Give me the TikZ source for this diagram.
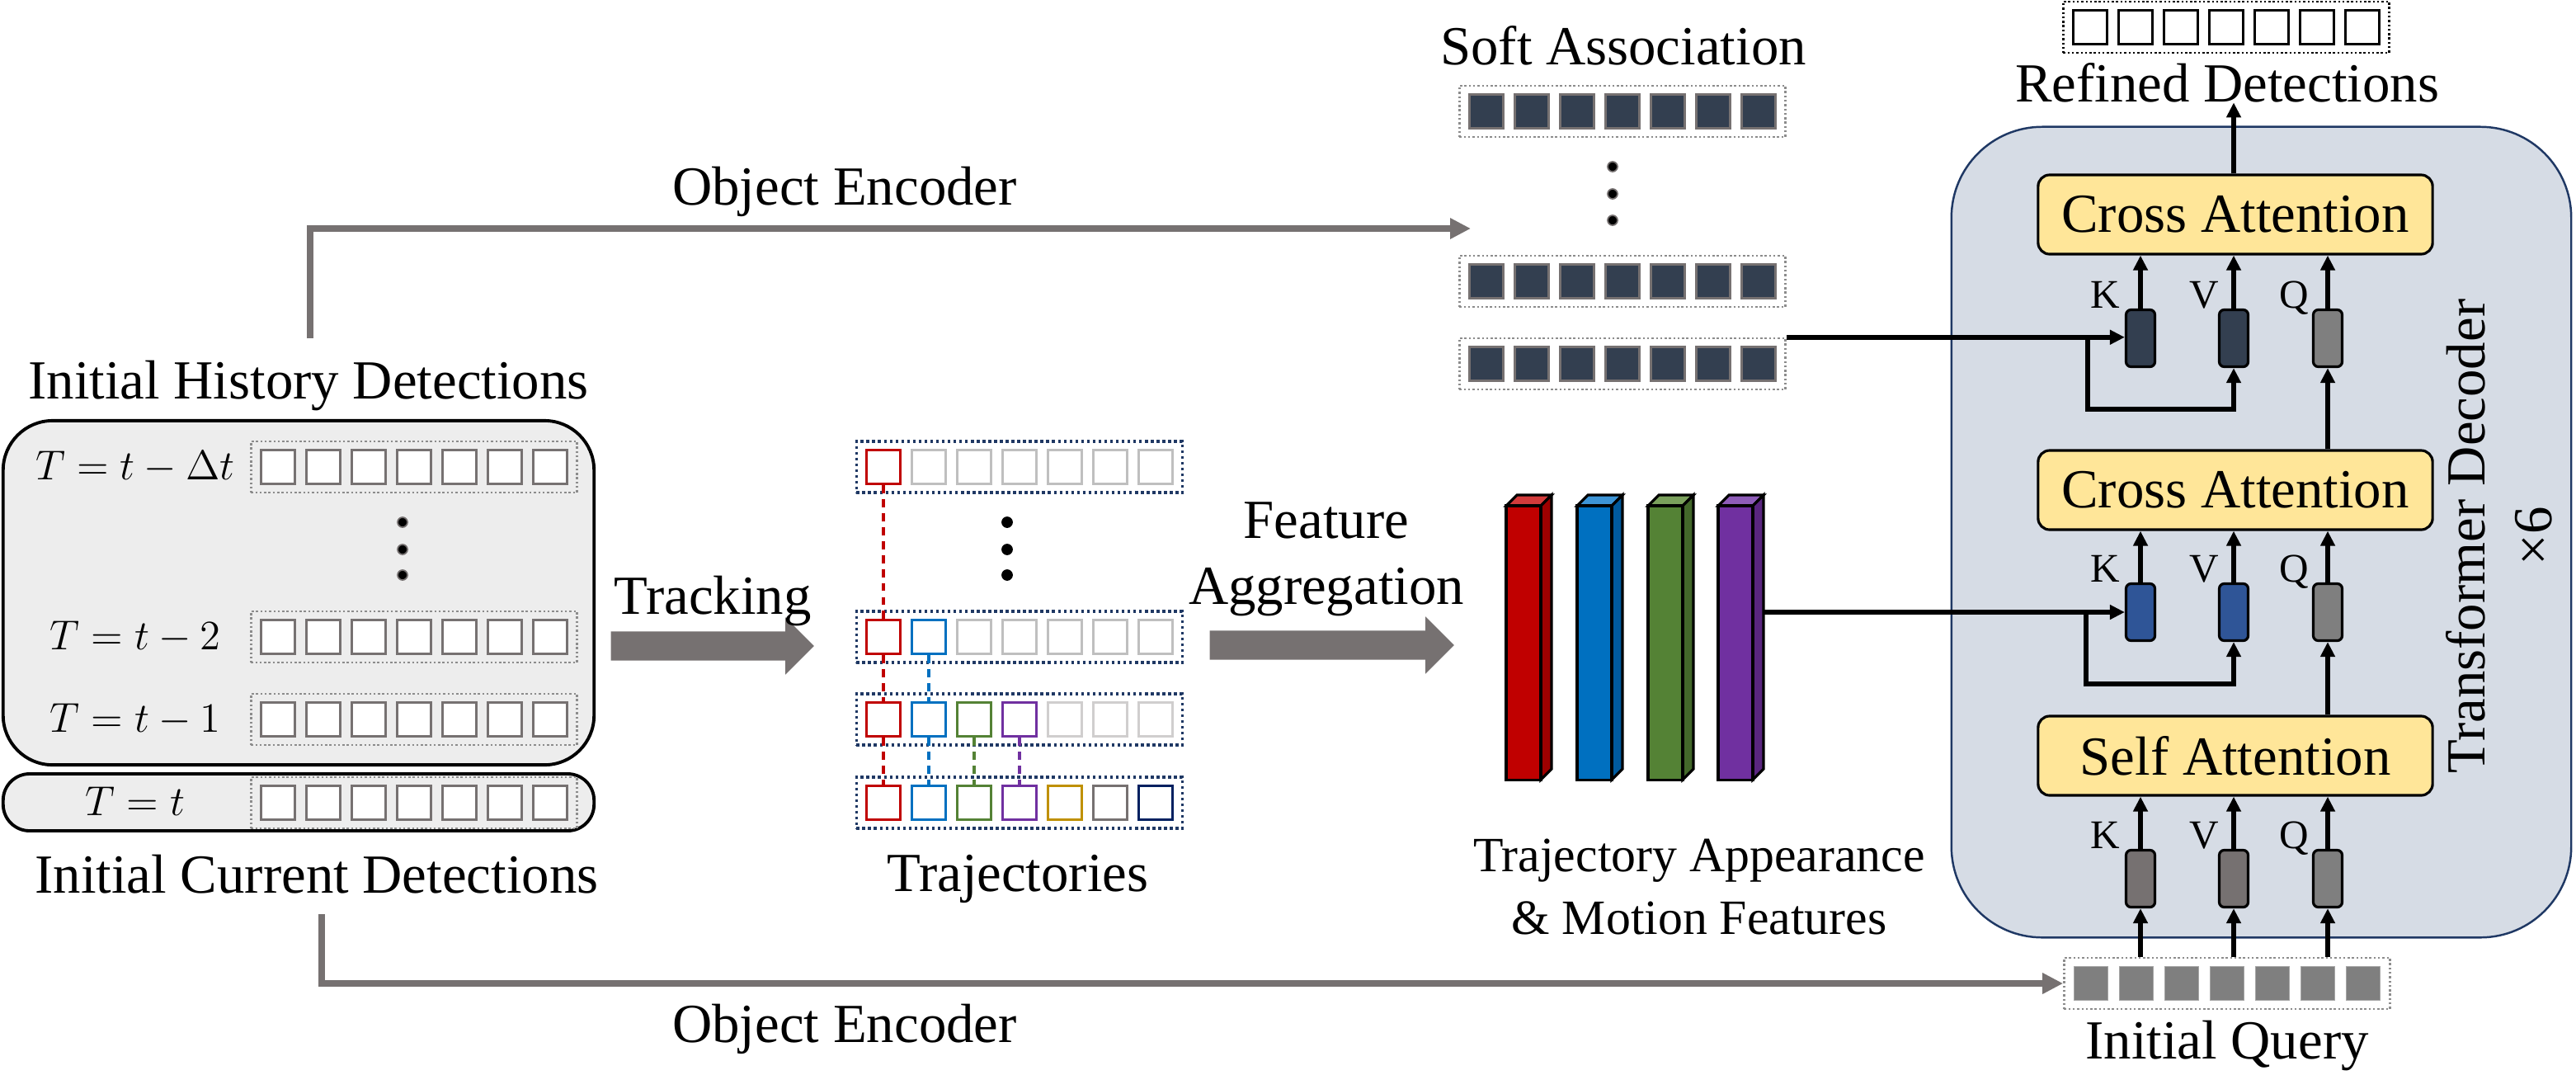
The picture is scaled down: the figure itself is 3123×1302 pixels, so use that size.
\documentclass[tikz,border=0pt]{standalone}
\usepackage{fontspec}
\setmainfont{Liberation Serif}
\usetikzlibrary{arrows.meta, shapes.arrows}

\definecolor{histFill}{HTML}{EDEDED}
\definecolor{cellGray}{HTML}{767171}
\definecolor{stripGray}{HTML}{8C8C8C}
\definecolor{stripNavy}{HTML}{1F3864}
\definecolor{trRed}{HTML}{C00000}
\definecolor{trBlue}{HTML}{0070C0}
\definecolor{trGreen}{HTML}{548235}
\definecolor{trPurple}{HTML}{7030A0}
\definecolor{trGold}{HTML}{BF9000}
\definecolor{trGray}{HTML}{767171}
\definecolor{trNavy}{HTML}{002060}
\definecolor{trLight}{HTML}{BFBFBF}
\definecolor{trLighter}{HTML}{D0CECE}
\definecolor{softDark}{HTML}{333F50}
\definecolor{queryGray}{HTML}{7F7F7F}
\definecolor{queryEdge}{HTML}{A6A6A6}
\definecolor{kvBlue}{HTML}{2F5597}
\definecolor{decFill}{HTML}{D6DCE5}
\definecolor{decEdge}{HTML}{1F3864}
\definecolor{attnYellow}{HTML}{FFE699}
\definecolor{arrowGray}{HTML}{767171}
\definecolor{barRed}{HTML}{C00000}
\definecolor{barRedTop}{HTML}{D33B3B}
\definecolor{barRedSide}{HTML}{9E0000}
\definecolor{barBlue}{HTML}{0070C0}
\definecolor{barBlueTop}{HTML}{3D94D6}
\definecolor{barBlueSide}{HTML}{005A9E}
\definecolor{barGreen}{HTML}{548235}
\definecolor{barGreenTop}{HTML}{7AA05C}
\definecolor{barGreenSide}{HTML}{43682A}
\definecolor{barPurple}{HTML}{7030A0}
\definecolor{barPurpleTop}{HTML}{8E5CB8}
\definecolor{barPurpleSide}{HTML}{5A2680}

\tikzset{
  txt/.style={inner sep=0pt, anchor=base},
  rowlab/.style={txt, font=\fontsize{14}{16}\selectfont},
  kvlab/.style={txt, anchor=base east, font=\fontsize{14}{16}\selectfont},
  strip/.style={draw=#1, line width=0.7pt, dash pattern=on 0.7pt off 0.8pt, minimum width=3.95cm, minimum height=0.62cm, inner sep=0pt},
  trstrip/.style={draw=stripNavy, line width=1pt, dash pattern=on 1pt off 1pt, minimum width=3.95cm, minimum height=0.62cm, inner sep=0pt},
  cell/.style={draw=#1, fill=white, line width=1.1pt, minimum size=0.41cm, inner sep=0pt},
  link/.style={draw=#1, line width=0.9pt, dash pattern=on 2.8pt off 2pt},
  ellipsisdot/.style={circle, fill=black, draw=cellGray, line width=0.5pt, minimum size=0.12cm, inner sep=0pt},
  roundbox/.style={draw=black, fill=histFill, line width=1.1pt, minimum width=7.16cm, inner sep=0pt},
  blockarrow/.style={single arrow, fill=arrowGray, inner xsep=0pt, inner ysep=0.17cm, single arrow head extend=0.17cm, single arrow head indent=0pt, anchor=tail},
  bar/.style={draw=black, line width=0.9pt, minimum width=0.42cm, minimum height=3.32cm, inner sep=0pt},
  decoder/.style={draw=decEdge, fill=decFill, line width=0.7pt, rounded corners=1.1cm, minimum width=7.51cm, minimum height=9.82cm},
  attn/.style={draw=black, fill=attnYellow, line width=0.9pt, rounded corners=0.14cm, minimum width=4.78cm, minimum height=0.96cm},
  kv/.style={draw=black, line width=0.9pt, rounded corners=0.06cm, minimum width=0.35cm, minimum height=0.69cm, inner sep=0pt},
  arr/.style={draw=black, line width=1.7pt, -{Triangle[length=0.18cm, width=0.17cm]}},
  garr/.style={draw=arrowGray, line width=2.4pt, -{Triangle[length=0.25cm, width=0.24cm]}}
}

\begin{document}
\begin{tikzpicture}[x=0.01cm, y=-0.01cm, font=\fontsize{19}{23}\selectfont]
\useasboundingbox (0,0) rectangle (3123,1302);

\node[roundbox, rounded corners=0.6cm, minimum height=4.17cm] (hist) at (362,718.5) {};
\node[roundbox, rounded corners=0.32cm, minimum height=0.69cm] (cur) at (362,972.5) {};
\node[txt] (histlab) at (374,483) {Initial History Detections};
\node[txt] (curlab) at (384,1082) {Initial Current Detections};

\foreach \n/\y/\lab in {1/566/{T=t-\Delta t}, 2/772/{T=t-2}, 3/872/{T=t-1}, 4/973/{T=t}} {
  \node[rowlab] (hlab\n) at (164,\y+15) {$\lab$};
  \node[strip=stripGray] (hrow\n) at (502,\y) {};
  \foreach \k in {1,...,7}
    \node[cell=cellGray] (hcell\n-\k) at (282+55*\k,\y) {};
}

\foreach \n/\y/\cols in {1/566/{trRed,trLight,trLight,trLight,trLight,trLight,trLight},
                         2/772/{trRed,trBlue,trLight,trLight,trLight,trLight,trLight},
                         3/872/{trRed,trBlue,trGreen,trPurple,trLighter,trLighter,trLighter},
                         4/973/{trRed,trBlue,trGreen,trPurple,trGold,trGray,trNavy}} {
  \node[trstrip] (trow\n) at (1236,\y) {};
  \foreach \c [count=\k] in \cols
    \node[cell=\c] (tcell\n-\k) at (1016+55*\k,\y) {};
}
\foreach \k/\c/\a/\b in {1/trRed/1/2, 1/trRed/2/3, 1/trRed/3/4, 2/trBlue/2/3, 2/trBlue/3/4, 3/trGreen/3/4, 4/trPurple/3/4}
  \draw[link=\c] (tcell\a-\k.south) -- (tcell\b-\k.north);
\node[txt] (trajlab) at (1234,1080) {Trajectories};

\foreach \y in {633,666,697} {
  \node[ellipsisdot] (hdot\y) at (488,\y) {};
  \node[ellipsisdot, draw=black] (tdot\y) at (1221,\y) {};
}

\node[blockarrow, minimum height=2.46cm] (track) at (740,783) {};
\node[txt] (tracklab) at (864,744) {Tracking};
\node[blockarrow, minimum height=2.96cm] (aggr) at (1466,782) {};
\node[txt] (aggrlab1) at (1608,652) {Feature};
\node[txt] (aggrlab2) at (1608,732) {Aggregation};

\foreach \x/\cf/\ct/\cs [count=\i] in {1826/barRed/barRedTop/barRedSide, 1912/barBlue/barBlueTop/barBlueSide,
                                       1998/barGreen/barGreenTop/barGreenSide, 2083/barPurple/barPurpleTop/barPurpleSide} {
  \filldraw[fill=\ct, line width=0.9pt] (\x,613) -- (\x+13,600) -- (\x+55,600) -- (\x+42,613) -- cycle;
  \filldraw[fill=\cs, line width=0.9pt] (\x+42,613) -- (\x+55,600) -- (\x+55,932) -- (\x+42,945) -- cycle;
  \node[bar, fill=\cf] (bar\i) at (\x+21,779) {};
}
\coordinate (featout) at (2138,742);

\node[txt] (softlab) at (1968,78) {Soft Association};
\foreach \n/\y in {1/135, 2/341, 3/441} {
  \node[strip=stripGray] (srow\n) at (1967,\y) {};
  \foreach \k in {1,...,7}
    \node[cell=cellGray, fill=softDark, line width=0.9pt] (scell\n-\k) at (1747+55*\k,\y) {};
}
\foreach \y in {202,235,267}
  \node[ellipsisdot] (sdot\y) at (1955,\y) {};

\node[decoder] (dec) at (2741.5,645) {};
\node[txt, rotate=90, anchor=center, align=center] (declab) at (3030,650) {Transformer Decoder\\×6};
\node[txt, font=\fontsize{17}{20}\selectfont] (featlab1) at (2060,1056) {Trajectory Appearance};
\node[txt, font=\fontsize{17}{20}\selectfont] (featlab2) at (2060,1132) {\& Motion Features};

\node[attn] (ca1) at (2710,260) {Cross Attention};
\node[attn] (ca2) at (2710,594) {Cross Attention};
\node[attn] (sa) at (2710,916) {Self Attention};

\foreach \n/\y/\ck in {1/410/softDark, 2/742/kvBlue, 3/1065/cellGray} {
  \node[kv, fill=\ck] (k\n) at (2595,\y) {};
  \node[kv, fill=\ck] (v\n) at (2708,\y) {};
  \node[kv, fill=queryGray] (q\n) at (2822,\y) {};
  \node[kvlab] (kl\n) at ([xshift=-1.5pt]k\n.north west) {K};
  \node[kvlab] (vl\n) at ([xshift=0.5pt]v\n.north west) {V};
  \node[kvlab] (ql\n) at ([xshift=-1pt]q\n.north west) {Q};
}

\node[strip=black] (refrow) at (2699,33) {};
\foreach \k in {1,...,7}
  \node[cell=black, line width=0.9pt] (rcell\k) at (2479+55*\k,33) {};
\node[txt] (reflab) at (2700,123) {Refined Detections};

\node[strip=stripGray] (qrow) at (2700,1192) {};
\foreach \k in {1,...,7}
  \node[cell=queryEdge, fill=queryGray, line width=0.5pt] (qcell\k) at (2480+55*\k,1192) {};
\node[txt] (querylab) at (2700,1283) {Initial Query};

\draw[arr] (srow3.north east) -- (srow3.north east -| k1.west);
\coordinate (br1) at (2531,410);
\draw[arr] (br1) -- ++(0,86) -| (v1.south);
\draw[arr] (featout) -- (k2.west);
\coordinate (br2) at (2529,742);
\draw[arr] (br2) -- ++(0,87) -| (v2.south);

\foreach \n/\top in {1/ca1, 2/ca2, 3/sa}
  \foreach \b in {k,v,q}
    \draw[arr] (\b\n.north) -- (\b\n.north |- \top.south);
\draw[arr] (ca2.north -| q1) -- (q1.south);
\draw[arr] (sa.north -| q2) -- (q2.south);
\foreach \b in {k,v,q}
  \draw[arr] (\b3.south |- qrow.north) -- (\b3.south);
\draw[arr] (ca1.north -| v1) -- (v1 |- reflab.south);

\coordinate (enc1) at (376,410);
\coordinate (saIn) at (1783,277);
\draw[garr] (enc1) |- (saIn);
\node[txt] (enclab1) at (1024,248) {Object Encoder};
\coordinate (enc2) at (390,1108);
\draw[garr] (enc2) |- (qrow.west);
\node[txt] (enclab2) at (1024,1263) {Object Encoder};
\end{tikzpicture}
\end{document}
